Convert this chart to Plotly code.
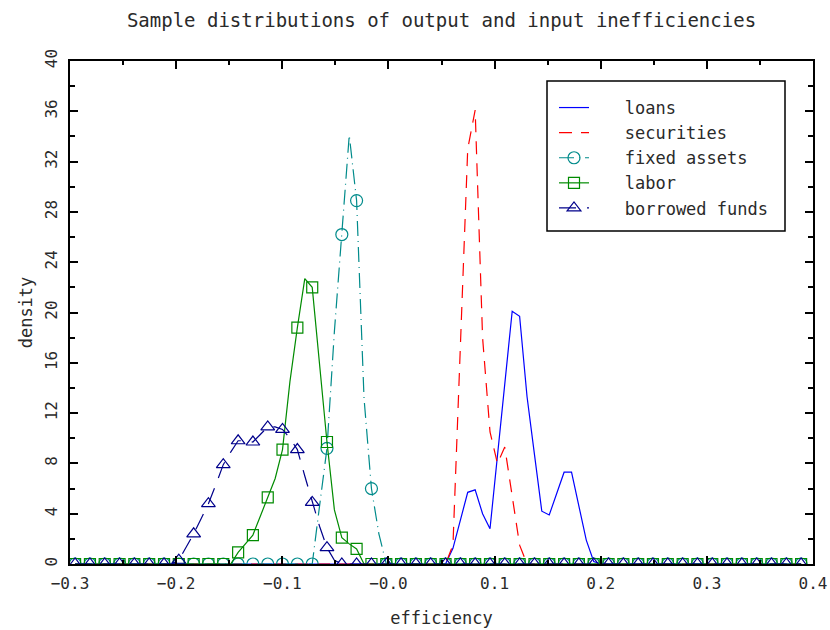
import plotly.graph_objects as go

# Common efficiency grid (x positions of density estimates)
efficiency = [
    -0.2952, -0.2882, -0.2812, -0.2743, -0.2673, -0.2603, -0.2533, -0.2463, -0.2394, -0.2324,
    -0.2254, -0.2184, -0.2114, -0.2045, -0.1975, -0.1905, -0.1835, -0.1765, -0.1696, -0.1626,
    -0.1556, -0.1486, -0.1416, -0.1347, -0.1277, -0.1207, -0.1137, -0.1067, -0.0998, -0.0928,
    -0.0858, -0.0788, -0.0718, -0.0649, -0.0579, -0.0509, -0.0439, -0.0369, -0.0300, -0.0230,
    -0.0160, -0.0090, -0.0020, 0.0049, 0.0119, 0.0189, 0.0259, 0.0329, 0.0398, 0.0468,
    0.0538, 0.0608, 0.0678, 0.0747, 0.0817, 0.0887, 0.0957, 0.1027, 0.1096, 0.1166,
    0.1236, 0.1306, 0.1376, 0.1445, 0.1515, 0.1585, 0.1655, 0.1725, 0.1794, 0.1864,
    0.1934, 0.2004, 0.2074, 0.2143, 0.2213, 0.2283, 0.2353, 0.2423, 0.2492, 0.2562,
    0.2632, 0.2702, 0.2772, 0.2841, 0.2911, 0.2981, 0.3051, 0.3121, 0.3190, 0.3260,
    0.3330, 0.3400, 0.3470, 0.3539, 0.3609, 0.3679, 0.3749, 0.3819, 0.3888,
]

loans = [
    0, 0, 0, 0, 0, 0, 0, 0, 0, 0,
    0, 0, 0, 0, 0, 0, 0, 0, 0, 0,
    0, 0, 0, 0, 0, 0, 0, 0, 0, 0,
    0, 0, 0, 0, 0, 0, 0, 0, 0, 0,
    0, 0, 0, 0, 0, 0, 0, 0, 0, 0,
    0, 1.25, 3.5, 5.7, 5.9, 4.0, 2.8, 8.6, 14.3, 20.1,
    19.7, 13.3, 8.7, 4.2, 3.9, 5.6, 7.3, 7.3, 4.6, 1.9,
    0.2, 0, 0, 0, 0, 0, 0, 0, 0, 0,
    0, 0, 0, 0, 0, 0, 0, 0, 0, 0,
    0, 0, 0, 0, 0, 0, 0, 0, 0,
]

securities = [
    0, 0, 0, 0, 0, 0, 0, 0, 0, 0,
    0, 0, 0, 0, 0, 0, 0, 0, 0, 0,
    0, 0, 0, 0, 0, 0, 0, 0, 0, 0,
    0, 0, 0, 0, 0, 0, 0, 0, 0, 0,
    0, 0, 0, 0, 0, 0, 0, 0, 0, 0,
    0, 1.5, 17.0, 33.0, 36.1, 18.0, 10.5, 8.0, 9.3, 5.5,
    1.5, 0, 0, 0, 0, 0, 0, 0, 0, 0,
    0, 0, 0, 0, 0, 0, 0, 0, 0, 0,
    0, 0, 0, 0, 0, 0, 0, 0, 0, 0,
    0, 0, 0, 0, 0, 0, 0, 0, 0,
]

fixed_assets = [
    0, 0, 0, 0, 0, 0, 0, 0, 0, 0,
    0, 0, 0, 0, 0, 0, 0, 0, 0, 0,
    0, 0, 0, 0, 0, 0, 0, 0, 0, 0,
    0, 0, 0, 4.6, 9.2, 18.5, 26.2, 34.1, 28.9, 13.2,
    6.0, 2.4, 0, 0, 0, 0, 0, 0, 0, 0,
    0, 0, 0, 0, 0, 0, 0, 0, 0, 0,
    0, 0, 0, 0, 0, 0, 0, 0, 0, 0,
    0, 0, 0, 0, 0, 0, 0, 0, 0, 0,
    0, 0, 0, 0, 0, 0, 0, 0, 0, 0,
    0, 0, 0, 0, 0, 0, 0, 0, 0,
]

labor = [
    0, 0, 0, 0, 0, 0, 0, 0, 0, 0,
    0, 0, 0, 0, 0, 0, 0, 0, 0, 0,
    0, 0, 0.93, 1.6, 2.3, 3.8, 5.3, 6.8, 9.1, 14.5,
    18.8, 22.7, 22.0, 16.0, 9.7, 4.3, 2.1, 1.6, 1.2, 0,
    0, 0, 0, 0, 0, 0, 0, 0, 0, 0,
    0, 0, 0, 0, 0, 0, 0, 0, 0, 0,
    0, 0, 0, 0, 0, 0, 0, 0, 0, 0,
    0, 0, 0, 0, 0, 0, 0, 0, 0, 0,
    0, 0, 0, 0, 0, 0, 0, 0, 0, 0,
    0, 0, 0, 0, 0, 0, 0, 0, 0,
]

borrowed_funds = [
    0, 0, 0, 0, 0, 0, 0, 0, 0, 0,
    0, 0, 0, 0, 0.3, 1.3, 2.4, 3.6, 4.8, 6.3,
    7.9, 8.9, 9.8, 9.8, 9.7, 10.3, 10.9, 10.9, 10.7, 10.0,
    9.1, 7.0, 4.9, 3.0, 1.3, 0.3, 0, 0, 0, 0,
    0, 0, 0, 0, 0, 0, 0, 0, 0, 0,
    0, 0, 0, 0, 0, 0, 0, 0, 0, 0,
    0, 0, 0, 0, 0, 0, 0, 0, 0, 0,
    0, 0, 0, 0, 0, 0, 0, 0, 0, 0,
    0, 0, 0, 0, 0, 0, 0, 0, 0, 0,
    0, 0, 0, 0, 0, 0, 0, 0, 0,
]

x_tickvals = [-0.3, -0.2, -0.1, 0.0, 0.1, 0.2, 0.3, 0.4]
x_ticktext = ["\u22120.3", "\u22120.2", "\u22120.1", "\u22120.0", "0.1", "0.2", "0.3", "0.4"]
y_tickvals = [0, 4, 8, 12, 16, 20, 24, 28, 32, 36, 40]

FONT = "DejaVu Sans Mono"
TXT = "#2a2a2a"
PAD = "\u00a0\u00a0\u00a0"

# plot-area geometry (pixels)
L, R, T, B = 70, 17, 61, 66
W, H = 830, 630
PW, PH = W - L - R, H - T - B

# markers are drawn on every other grid point
marker_idx = list(range(0, len(efficiency), 2))

fig = go.Figure()

fig.add_trace(go.Scatter(
    x=efficiency, y=loans, mode="lines", name=PAD + "loans",
    line=dict(color="#0000ff", width=1.2),
))
fig.add_trace(go.Scatter(
    x=efficiency, y=securities, mode="lines", name=PAD + "securities",
    line=dict(color="#ff0000", width=1.2, dash="13px,9px"),
))
fig.add_trace(go.Scatter(
    x=efficiency, y=fixed_assets, mode="lines+markers", name=PAD + "fixed assets",
    line=dict(color="#008b8b", width=1.2, dash="15px,5px,1px,5px"),
    marker=dict(symbol="circle-open", size=12, color="#008b8b", line=dict(width=1.2)),
    selectedpoints=marker_idx,
    selected=dict(marker=dict(opacity=1)),
    unselected=dict(marker=dict(opacity=0)),
))
fig.add_trace(go.Scatter(
    x=efficiency, y=labor, mode="lines+markers", name=PAD + "labor",
    line=dict(color="#008b00", width=1.2),
    marker=dict(symbol="square-open", size=11, color="#008b00", line=dict(width=1.2)),
    selectedpoints=marker_idx,
    selected=dict(marker=dict(opacity=1)),
    unselected=dict(marker=dict(opacity=0)),
))
fig.add_trace(go.Scatter(
    x=efficiency, y=borrowed_funds, mode="lines+markers", name=PAD + "borrowed funds",
    line=dict(color="#00008b", width=1.2, dash="17px,11px"),
    marker=dict(symbol="triangle-up-open", size=12, color="#00008b", line=dict(width=1.2)),
    selectedpoints=marker_idx,
    selected=dict(marker=dict(opacity=1)),
    unselected=dict(marker=dict(opacity=0)),
))

axis_common = dict(
    showgrid=False, zeroline=False, automargin=False,
    showline=True, linecolor="black", linewidth=2, mirror="ticks",
    ticks="inside", tickcolor="black", tickwidth=1.5, ticklen=8,
    tickfont=dict(family=FONT, size=16, color=TXT),
)

fig.update_layout(
    width=W, height=H,
    margin=dict(l=L, r=R, t=T, b=B, autoexpand=False),
    paper_bgcolor="white", plot_bgcolor="white",
    font=dict(family=FONT, color=TXT),
    title=dict(
        text="Sample distributions of output and input inefficiencies",
        font=dict(family=FONT, size=19, color=TXT),
        x=(L + (W - R)) / 2 / W, xanchor="center",
        y=1 - 20 / H, yanchor="middle", yref="container",
        automargin=False,
    ),
    xaxis=dict(
        range=[-0.3, 0.4], tickvals=x_tickvals, ticktext=x_ticktext,
        ticklabelstandoff=4,
        minor=dict(dtick=0.05, ticks="inside", ticklen=4, tickcolor="black", tickwidth=1.5),
        title=dict(text="efficiency", font=dict(family=FONT, size=17, color=TXT), standoff=20),
        **axis_common,
    ),
    yaxis=dict(
        range=[0, 40], tickvals=y_tickvals, tickangle=-90,
        ticklabelstandoff=5,
        minor=dict(dtick=2, ticks="inside", ticklen=5, tickcolor="black", tickwidth=1.5),
        title=dict(text="density", font=dict(family=FONT, size=17, color=TXT), standoff=5),
        **axis_common,
    ),
    showlegend=True,
    legend=dict(
        x=(554 - L) / PW, y=(H - B - 90) / PH, xanchor="left", yanchor="top",
        bgcolor="rgba(0,0,0,0)", borderwidth=0,
        font=dict(family=FONT, size=17, color=TXT),
        tracegroupgap=0,
    ),
    shapes=[dict(
        type="rect", xref="paper", yref="paper", layer="above",
        x0=(547 - L) / PW, x1=(785 - L) / PW,
        y0=(H - B - 231) / PH, y1=(H - B - 81) / PH,
        line=dict(color="black", width=1.5), fillcolor="rgba(0,0,0,0)",
    )],
)

fig.write_html(
    "out.html",
    config={"displayModeBar": False},
    post_script="document.body.style.margin='0';document.body.style.overflow='hidden';",
)
